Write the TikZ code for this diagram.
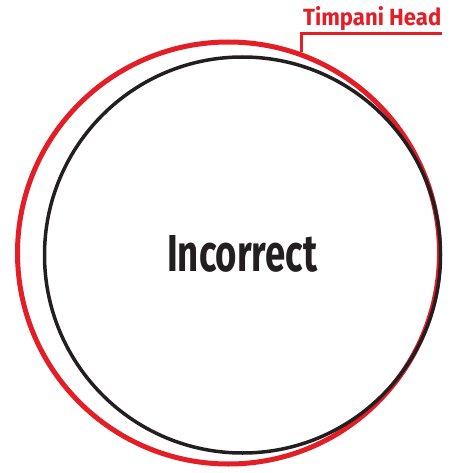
\documentclass[tikz,border=0pt]{standalone}
\usepackage{fontspec}
\setmainfont{Fira Sans}
\usepackage{graphicx}
\definecolor{headred}{HTML}{E31E26}
\definecolor{inkblack}{HTML}{231F20}
\begin{document}
\begin{tikzpicture}[x=1pt,y=-1pt,
  ring/.style={circle,inner sep=0pt,draw},
  lbl/.style={inner sep=0pt,anchor=base west}]
\useasboundingbox (0,0) rectangle (450,473);
\node[ring,draw=headred,line width=5pt,minimum size=422pt] (head) at (228.5,253) {};
\node[ring,draw=inkblack,line width=3.5pt,minimum size=396pt] (drum) at (242.5,255) {};
\node[lbl,text=inkblack] (incorrect) at (167,271) {\resizebox{150pt}{36pt}{\bfseries Incorrect}};
\node[lbl,text=headred] (label) at (303,26) {\resizebox{138pt}{19pt}{\bfseries Timpani Head}};
\coordinate (leadend) at (441.5,33.5);
\draw[headred,line width=3pt] (head.70) |- (leadend);
\end{tikzpicture}
\end{document}
